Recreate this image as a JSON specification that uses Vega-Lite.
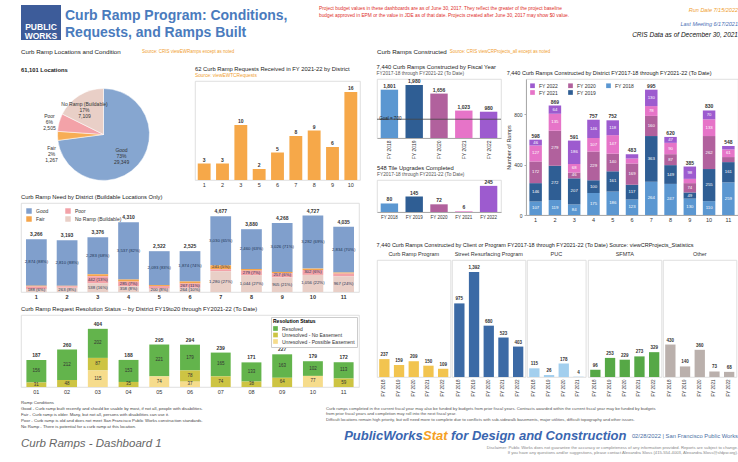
{
  "$schema": "https://vega.github.io/schema/vega-lite/v6.json",
  "padding": {"left": 20, "top": 5, "right": 1, "bottom": 0},
  "background": "white",
  "config": {
    "font": "Liberation Sans",
    "view": {"stroke": "#d8d8d8", "strokeWidth": 0.8},
    "axis": {"labelFontSize": 5.5, "labelColor": "#333", "grid": false, "domainColor": "#aaa", "tickColor": "#aaa", "tickSize": 2, "labelPadding": 2, "titleFontSize": 5.5, "titleFontWeight": "normal", "titleColor": "#333"},
    "title": {"fontSize": 5.8, "fontWeight": "normal", "anchor": "start", "color": "#222", "offset": 3, "subtitleFontSize": 4.8, "subtitlePadding": 1, "subtitleColor": "#555"},
    "legend": {"labelFontSize": 5.5, "titleFontSize": 5.5, "symbolSize": 30, "symbolType": "square", "rowPadding": 2, "columnPadding": 8, "padding": 2, "labelColor": "#333", "symbolStrokeWidth": 0},
    "header": {"labelFontSize": 6, "labelColor": "#333"}
  },
  "spacing": 4,
  "resolve": {"scale": {"color": "independent"}, "legend": {"color": "independent"}},
  "vconcat": [
    {
      "spacing": 4,
      "hconcat": [
        {
          "width": 40, "height": 35,
          "view": {"fill": "#3d5c9a", "stroke": null},
          "data": {"values": [{"t": "PUBLIC\nWORKS"}]},
          "mark": {"type": "text", "color": "white", "fontSize": 8.5, "fontWeight": "bold", "lineBreak": "\n", "lineHeight": 9, "baseline": "top", "align": "center"},
          "encoding": {
            "y": {"datum": 0.5, "type": "quantitative", "scale": {"domain": [0, 1]}, "axis": null},
            "text": {"field": "t"}
          }
        },
        {
          "width": 250, "height": 35,
          "view": {"stroke": null},
          "data": {"values": [{"t": "Curb Ramp Program:  Conditions,\nRequests, and Ramps Built"}]},
          "mark": {"type": "text", "color": "#4a7bbd", "fontSize": 14, "fontWeight": "bold", "lineBreak": "\n", "lineHeight": 17, "align": "left", "baseline": "top"},
          "encoding": {
            "x": {"datum": 0, "type": "quantitative", "scale": {"domain": [0, 1]}, "axis": null},
            "y": {"datum": 0.9, "type": "quantitative", "scale": {"domain": [0, 1]}, "axis": null},
            "text": {"field": "t"}
          }
        },
        {
          "width": 260, "height": 35,
          "view": {"stroke": null},
          "data": {"values": [{"t": "Project budget values in these dashboards are as of June 30, 2017.  They reflect the greater of the project baseline\nbudget approved in EPM or the value in JDE as of that date.  Projects created after June 30, 2017 may show $0 value."}]},
          "mark": {"type": "text", "color": "#e0302b", "fontSize": 4.8, "lineBreak": "\n", "lineHeight": 6.5, "align": "left", "baseline": "top"},
          "encoding": {
            "x": {"datum": 0, "type": "quantitative", "scale": {"domain": [0, 1]}, "axis": null},
            "y": {"datum": 0.96, "type": "quantitative", "scale": {"domain": [0, 1]}, "axis": null},
            "text": {"field": "t"}
          }
        },
        {
          "width": 155, "height": 35,
          "view": {"stroke": null},
          "layer": [
            {
              "data": {"values": [{"t": "Run Date 7/15/2022"}]},
              "mark": {"type": "text", "color": "#f0a030", "fontSize": 5.5, "fontStyle": "italic", "align": "right", "baseline": "middle"},
              "encoding": {
                "x": {"datum": 1, "type": "quantitative", "scale": {"domain": [0, 1]}, "axis": null},
                "y": {"datum": 0.87, "type": "quantitative", "scale": {"domain": [0, 1]}, "axis": null},
                "text": {"field": "t"}
              }
            },
            {
              "data": {"values": [{"t": "Last Meeting 6/17/2021"}]},
              "mark": {"type": "text", "color": "#4a6fb5", "fontSize": 5.5, "fontStyle": "italic", "align": "right", "baseline": "middle"},
              "encoding": {
                "x": {"datum": 1, "type": "quantitative", "scale": {"domain": [0, 1]}, "axis": null},
                "y": {"datum": 0.45, "type": "quantitative", "scale": {"domain": [0, 1]}, "axis": null},
                "text": {"field": "t"}
              }
            },
            {
              "data": {"values": [{"t": "CRIS Data as of December 30, 2021"}]},
              "mark": {"type": "text", "color": "#111", "fontSize": 6.5, "fontStyle": "italic", "align": "right", "baseline": "middle"},
              "encoding": {
                "x": {"datum": 1, "type": "quantitative", "scale": {"domain": [0, 1]}, "axis": null},
                "y": {"datum": 0.13, "type": "quantitative", "scale": {"domain": [0, 1]}, "axis": null},
                "text": {"field": "t"}
              }
            }
          ]
        }
      ]
    },
    {
      "spacing": 15,
      "resolve": {"scale": {"color": "independent"}, "legend": {"color": "independent"}},
      "hconcat": [
        {
          "spacing": 5,
          "resolve": {"scale": {"color": "independent"}, "legend": {"color": "independent"}},
          "vconcat": [
            {
              "width": 338, "height": 17,
              "view": {"stroke": null},
              "layer": [
                {
                  "data": {"values": [{"t": "Curb Ramp Locations and Condition"}]},
                  "mark": {"type": "text", "color": "#222", "fontSize": 6.2, "align": "left", "baseline": "middle"},
                  "encoding": {
                    "x": {"datum": 0, "type": "quantitative", "scale": {"domain": [0, 1]}, "axis": null},
                    "y": {"datum": 0.55, "type": "quantitative", "scale": {"domain": [0, 1]}, "axis": null},
                    "text": {"field": "t"}
                  }
                },
                {
                  "data": {"values": [{"t": "Source: CRIS viewEWRamps except as noted"}]},
                  "mark": {"type": "text", "color": "#f0a030", "fontSize": 4.5, "align": "left", "baseline": "middle"},
                  "encoding": {
                    "x": {"datum": 0.358, "type": "quantitative", "scale": {"domain": [0, 1]}, "axis": null},
                    "y": {"datum": 0.55, "type": "quantitative", "scale": {"domain": [0, 1]}, "axis": null},
                    "text": {"field": "t"}
                  }
                }
              ]
            },
            {
              "spacing": 8,
              "resolve": {"scale": {"color": "independent"}, "legend": {"color": "independent"}},
              "hconcat": [
                {
                  "title": {"text": "61,101 Locations", "fontWeight": "bold", "offset": 8},
                  "width": 165, "height": 107,
                  "data": {"values": [
                    {"condition": "Good", "count": 29349, "pct": 73},
                    {"condition": "Fair", "count": 1267, "pct": 2},
                    {"condition": "Poor", "count": 2505, "pct": 6},
                    {"condition": "No Ramp (Buildable)", "count": 7109, "pct": 17}
                  ]},
                  "transform": [
                    {"calculate": "indexof(['Good','Fair','Poor','No Ramp (Buildable)'], datum.condition)", "as": "ord"},
                    {"calculate": "datum.condition + '\\n' + datum.pct + '%\\n' + format(datum.count, ',')", "as": "label"}
                  ],
                  "encoding": {
                    "theta": {"field": "count", "type": "quantitative", "stack": true},
                    "order": {"field": "ord", "type": "quantitative"},
                    "color": {"field": "condition", "type": "nominal", "scale": {"domain": ["Good", "Fair", "Poor", "No Ramp (Buildable)"], "range": ["#86a6d0", "#f7ad55", "#f3a2a8", "#e9cfc7"]}, "legend": null}
                  },
                  "layer": [
                    {"mark": {"type": "arc", "outerRadius": 46, "stroke": "white", "strokeWidth": 0.5}},
                    {"mark": {"type": "text", "radius": 24, "fontSize": 5, "lineBreak": "\n", "lineHeight": 6}, "encoding": {"color": {"value": "#333"}, "text": {"condition": {"test": "datum.condition == 'Good'", "field": "label"}, "value": ""}}},
                    {"mark": {"type": "text", "radius": 36, "fontSize": 5, "lineBreak": "\n", "lineHeight": 6}, "encoding": {"color": {"value": "#333"}, "text": {"condition": {"test": "datum.condition == 'No Ramp (Buildable)'", "field": "label"}, "value": ""}}},
                    {"mark": {"type": "text", "radius": 56, "dy": -4, "fontSize": 5, "lineBreak": "\n", "lineHeight": 6}, "encoding": {"color": {"value": "#333"}, "text": {"condition": {"test": "datum.condition == 'Poor'", "field": "label"}, "value": ""}}},
                    {"mark": {"type": "text", "radius": 52, "dy": 12, "fontSize": 5, "lineBreak": "\n", "lineHeight": 6}, "encoding": {"color": {"value": "#333"}, "text": {"condition": {"test": "datum.condition == 'Fair'", "field": "label"}, "value": ""}}}
                  ]
                },
                {
                  "title": {"text": "62 Curb Ramp Requests Received in FY 2021-22 by District", "subtitle": "Source: viewEWTCRequests", "subtitleColor": "#f0a030"},
                  "width": 165, "height": 99,
                  "data": {"values": [
                    {"district": 1, "requests": 3}, {"district": 2, "requests": 3}, {"district": 3, "requests": 10},
                    {"district": 5, "requests": 2}, {"district": 6, "requests": 5}, {"district": 7, "requests": 8},
                    {"district": 8, "requests": 9}, {"district": 9, "requests": 6}, {"district": 10, "requests": 16}
                  ]},
                  "encoding": {
                    "x": {"field": "district", "type": "ordinal", "axis": {"title": null, "labelAngle": 0, "ticks": false, "domain": false}},
                    "y": {"field": "requests", "type": "quantitative", "scale": {"domain": [0, 18]}, "axis": null}
                  },
                  "layer": [
                    {"mark": {"type": "bar", "color": "#f6a849", "width": {"band": 0.78}}},
                    {"mark": {"type": "text", "dy": -4, "fontSize": 5, "fontWeight": "bold", "color": "#333"}, "encoding": {"text": {"field": "requests"}}}
                  ]
                }
              ]
            },
            {
              "title": "Curb Ramp Need by District (Buildable Locations Only)",
              "width": 338, "height": 89,
              "data": {"values": [
                {"district": 1, "condition": "Good", "count": 2874}, {"district": 1, "condition": "Fair", "count": 50}, {"district": 1, "condition": "Poor", "count": 154}, {"district": 1, "condition": "No Ramp (Buildable)", "count": 188},
                {"district": 2, "condition": "Good", "count": 2810}, {"district": 2, "condition": "Fair", "count": 30}, {"district": 2, "condition": "Poor", "count": 90}, {"district": 2, "condition": "No Ramp (Buildable)", "count": 263},
                {"district": 3, "condition": "Good", "count": 2283}, {"district": 3, "condition": "Fair", "count": 113}, {"district": 3, "condition": "Poor", "count": 442}, {"district": 3, "condition": "No Ramp (Buildable)", "count": 538},
                {"district": 4, "condition": "Good", "count": 3537}, {"district": 4, "condition": "Fair", "count": 130}, {"district": 4, "condition": "Poor", "count": 285}, {"district": 4, "condition": "No Ramp (Buildable)", "count": 358},
                {"district": 5, "condition": "Good", "count": 2093}, {"district": 5, "condition": "Fair", "count": 60}, {"district": 5, "condition": "Poor", "count": 169}, {"district": 5, "condition": "No Ramp (Buildable)", "count": 200},
                {"district": 6, "condition": "Good", "count": 1874}, {"district": 6, "condition": "Fair", "count": 120}, {"district": 6, "condition": "Poor", "count": 267}, {"district": 6, "condition": "No Ramp (Buildable)", "count": 264},
                {"district": 7, "condition": "Good", "count": 3030}, {"district": 7, "condition": "Fair", "count": 241}, {"district": 7, "condition": "Poor", "count": 126}, {"district": 7, "condition": "No Ramp (Buildable)", "count": 1280},
                {"district": 8, "condition": "Good", "count": 2460}, {"district": 8, "condition": "Fair", "count": 97}, {"district": 8, "condition": "Poor", "count": 279}, {"district": 8, "condition": "No Ramp (Buildable)", "count": 1044},
                {"district": 9, "condition": "Good", "count": 3026}, {"district": 9, "condition": "Fair", "count": 80}, {"district": 9, "condition": "Poor", "count": 257}, {"district": 9, "condition": "No Ramp (Buildable)", "count": 905},
                {"district": 10, "condition": "Good", "count": 3282}, {"district": 10, "condition": "Fair", "count": 87}, {"district": 10, "condition": "Poor", "count": 302}, {"district": 10, "condition": "No Ramp (Buildable)", "count": 1056},
                {"district": 11, "condition": "Good", "count": 2834}, {"district": 11, "condition": "Fair", "count": 61}, {"district": 11, "condition": "Poor", "count": 173}, {"district": 11, "condition": "No Ramp (Buildable)", "count": 967}
              ]},
              "transform": [
                {"calculate": "indexof(['No Ramp (Buildable)','Poor','Fair','Good'], datum.condition)", "as": "ord"},
                {"joinaggregate": [{"op": "sum", "field": "count", "as": "total"}], "groupby": ["district"]},
                {"stack": "count", "groupby": ["district"], "sort": [{"field": "ord", "order": "ascending"}], "as": ["y0", "y1"]},
                {"calculate": "(datum.y0 + datum.y1) / 2", "as": "ymid"},
                {"calculate": "format(datum.count, ',') + ' (' + format(datum.count / datum.total, '.0%') + ')'", "as": "seglabel"}
              ],
              "encoding": {
                "x": {"field": "district", "type": "ordinal", "axis": {"title": null, "labelAngle": 0, "ticks": false, "domain": false, "labelFontWeight": "bold"}}
              },
              "layer": [
                {
                  "mark": {"type": "bar", "width": {"band": 0.75}},
                  "encoding": {
                    "y": {"field": "y0", "type": "quantitative", "scale": {"domain": [0, 5300]}, "axis": null},
                    "y2": {"field": "y1"},
                    "color": {"field": "condition", "type": "nominal", "scale": {"domain": ["Good", "Fair", "Poor", "No Ramp (Buildable)"], "range": ["#809fcc", "#f5a54a", "#f3a2a8", "#e9cfc7"]}, "legend": {"title": null, "orient": "top-left", "columns": 2, "offset": 3, "columnPadding": 16, "labelFontSize": 5}}
                  }
                },
                {
                  "transform": [{"filter": "datum.count >= 180"}],
                  "mark": {"type": "text", "fontSize": 4.3, "color": "#1f3554"},
                  "encoding": {"y": {"field": "ymid", "type": "quantitative", "axis": null}, "text": {"field": "seglabel"}}
                },
                {
                  "transform": [{"filter": "datum.ord == 3"}],
                  "mark": {"type": "text", "dy": -5, "fontSize": 5, "fontWeight": "bold", "color": "#333"},
                  "encoding": {"y": {"field": "y1", "type": "quantitative", "axis": null}, "text": {"field": "total", "format": ","}}
                }
              ]
            },
            {
              "title": "Curb Ramp Request Resolution Status -- by District            FY19to20 through FY2021-22 (To Date)",
              "width": 338, "height": 72,
              "data": {"values": [
                {"district": "01", "status": "Resolved", "count": 156}, {"district": "01", "status": "Unresolved - No Easement", "count": 31},
                {"district": "02", "status": "Resolved", "count": 212}, {"district": "02", "status": "Unresolved - No Easement", "count": 48},
                {"district": "03", "status": "Resolved", "count": 202}, {"district": "03", "status": "Unresolved - No Easement", "count": 87}, {"district": "03", "status": "Unresolved - Possible Easement", "count": 115},
                {"district": "04", "status": "Resolved", "count": 153}, {"district": "04", "status": "Unresolved - No Easement", "count": 35},
                {"district": "05", "status": "Resolved", "count": 221}, {"district": "05", "status": "Unresolved - Possible Easement", "count": 74},
                {"district": "06", "status": "Resolved", "count": 179}, {"district": "06", "status": "Unresolved - No Easement", "count": 78}, {"district": "06", "status": "Unresolved - Possible Easement", "count": 37},
                {"district": "07", "status": "Resolved", "count": 165}, {"district": "07", "status": "Unresolved - No Easement", "count": 74},
                {"district": "08", "status": "Resolved", "count": 133}, {"district": "08", "status": "Unresolved - No Easement", "count": 38},
                {"district": "09", "status": "Resolved", "count": 163}, {"district": "09", "status": "Unresolved - No Easement", "count": 64},
                {"district": "10", "status": "Resolved", "count": 102}, {"district": "10", "status": "Unresolved - Possible Easement", "count": 77},
                {"district": "11", "status": "Resolved", "count": 113}, {"district": "11", "status": "Unresolved - No Easement", "count": 59}
              ]},
              "transform": [
                {"calculate": "indexof(['Unresolved - Possible Easement','Unresolved - No Easement','Resolved'], datum.status)", "as": "ord"},
                {"joinaggregate": [{"op": "sum", "field": "count", "as": "total"}], "groupby": ["district"]},
                {"stack": "count", "groupby": ["district"], "sort": [{"field": "ord", "order": "ascending"}], "as": ["y0", "y1"]},
                {"calculate": "(datum.y0 + datum.y1) / 2", "as": "ymid"}
              ],
              "encoding": {
                "x": {"field": "district", "type": "ordinal", "axis": {"title": null, "labelAngle": 0, "ticks": false, "domain": false}}
              },
              "layer": [
                {
                  "mark": {"type": "bar", "width": {"band": 0.72}},
                  "encoding": {
                    "y": {"field": "y0", "type": "quantitative", "scale": {"domain": [0, 480]}, "axis": null},
                    "y2": {"field": "y1"},
                    "color": {"field": "status", "type": "nominal", "scale": {"domain": ["Resolved", "Unresolved - No Easement", "Unresolved - Possible Easement"], "range": ["#63b44c", "#cdc443", "#f6dc8c"]}, "legend": {"title": "Resolution Status", "orient": "top-right", "offset": 2, "strokeColor": "#ccc", "padding": 2, "fillColor": "white", "labelFontSize": 5, "titleFontSize": 5, "symbolSize": 22, "rowPadding": 0.5, "titlePadding": 2}}
                  }
                },
                {
                  "mark": {"type": "text", "fontSize": 4.5, "color": "#333"},
                  "encoding": {"y": {"field": "ymid", "type": "quantitative", "axis": null}, "text": {"field": "count"}}
                },
                {
                  "transform": [{"filter": "datum.ord == 2"}],
                  "mark": {"type": "text", "dy": -5, "fontSize": 5, "fontWeight": "bold", "color": "#333"},
                  "encoding": {"y": {"field": "y1", "type": "quantitative", "axis": null}, "text": {"field": "total"}}
                }
              ]
            }
          ]
        },
        {
          "spacing": 20,
          "resolve": {"scale": {"color": "independent"}, "legend": {"color": "independent"}},
          "vconcat": [
            {
              "spacing": 5,
              "resolve": {"scale": {"color": "independent"}, "legend": {"color": "independent"}},
              "vconcat": [
                {
                  "width": 364, "height": 14,
                  "view": {"stroke": null},
                  "layer": [
                    {
                      "data": {"values": [{"t": "Curb Ramps Constructed"}]},
                      "mark": {"type": "text", "color": "#222", "fontSize": 6.2, "align": "left", "baseline": "middle"},
                      "encoding": {
                        "x": {"datum": 0, "type": "quantitative", "scale": {"domain": [0, 1]}, "axis": null},
                        "y": {"datum": 0.4, "type": "quantitative", "scale": {"domain": [0, 1]}, "axis": null},
                        "text": {"field": "t"}
                      }
                    },
                    {
                      "data": {"values": [{"t": "Source: CRIS viewCRProjects_all except as noted"}]},
                      "mark": {"type": "text", "color": "#f0a030", "fontSize": 4.5, "align": "left", "baseline": "middle"},
                      "encoding": {
                        "x": {"datum": 0.2, "type": "quantitative", "scale": {"domain": [0, 1]}, "axis": null},
                        "y": {"datum": 0.4, "type": "quantitative", "scale": {"domain": [0, 1]}, "axis": null},
                        "text": {"field": "t"}
                      }
                    }
                  ]
                },
                {
                  "spacing": 4,
                  "resolve": {"scale": {"color": "independent"}, "legend": {"color": "independent"}},
                  "hconcat": [
                    {
                      "spacing": 4,
                      "resolve": {"scale": {"color": "independent"}, "legend": {"color": "independent"}},
                      "vconcat": [
                        {
                          "title": {"text": "7,440 Curb Ramps Constructed by Fiscal Year", "subtitle": "FY2017-18 through FY2021-22 (To Date)"},
                          "width": 124, "height": 59,
                          "data": {"values": [
                            {"fy": "FY 2018", "ramps": 1801}, {"fy": "FY 2019", "ramps": 1980}, {"fy": "FY 2020", "ramps": 1656},
                            {"fy": "FY 2021", "ramps": 1023}, {"fy": "FY 2022", "ramps": 980}
                          ]},
                          "encoding": {
                            "x": {"field": "fy", "type": "nominal", "axis": {"title": null, "labelAngle": -90, "labelFontSize": 5, "ticks": false}}
                          },
                          "layer": [
                            {
                              "mark": {"type": "bar", "width": {"band": 0.78}},
                              "encoding": {
                                "y": {"field": "ramps", "type": "quantitative", "scale": {"domain": [0, 2160]}, "axis": null},
                                "color": {"field": "fy", "type": "nominal", "scale": {"domain": ["FY 2018", "FY 2019", "FY 2020", "FY 2021", "FY 2022"], "range": ["#5b97d1", "#2f5e94", "#b1619d", "#e674c8", "#9d5bcf"]}, "legend": null}
                              }
                            },
                            {
                              "mark": {"type": "text", "dy": -4, "fontSize": 5, "fontWeight": "bold", "color": "#333"},
                              "encoding": {"y": {"field": "ramps", "type": "quantitative", "axis": null}, "text": {"field": "ramps", "format": ","}}
                            },
                            {
                              "data": {"values": [{"goal": 700, "fy": "FY 2018", "label": "Goal = 700"}]},
                              "mark": {"type": "rule", "color": "#444", "strokeWidth": 0.8},
                              "encoding": {"x": null, "y": {"field": "goal", "type": "quantitative", "axis": null}}
                            },
                            {
                              "data": {"values": [{"goal": 700, "fy": "FY 2018", "label": "Goal = 700"}]},
                              "mark": {"type": "text", "align": "left", "fontSize": 4.5, "color": "#222", "dx": 1},
                              "encoding": {
                                "x": {"field": "fy", "type": "nominal", "bandPosition": 0},
                                "y": {"field": "goal", "type": "quantitative", "axis": null},
                                "text": {"field": "label"}
                              }
                            }
                          ]
                        },
                        {
                          "title": {"text": "548 Tile Upgrades Completed", "subtitle": "FY2017-18 through FY2021-22 (To Date)"},
                          "width": 124, "height": 32,
                          "data": {"values": [
                            {"fy": "FY 2018", "tiles": 80}, {"fy": "FY 2019", "tiles": 145}, {"fy": "FY 2020", "tiles": 72},
                            {"fy": "FY 2021", "tiles": 6}, {"fy": "FY 2022", "tiles": 245}
                          ]},
                          "encoding": {
                            "x": {"field": "fy", "type": "nominal", "axis": {"title": null, "labelAngle": 0, "labelFontSize": 4.5, "ticks": false}},
                            "y": {"field": "tiles", "type": "quantitative", "scale": {"domain": [0, 300]}, "axis": null}
                          },
                          "layer": [
                            {
                              "mark": {"type": "bar", "width": {"band": 0.78}},
                              "encoding": {"color": {"field": "fy", "type": "nominal", "scale": {"domain": ["FY 2018", "FY 2019", "FY 2020", "FY 2021", "FY 2022"], "range": ["#5b97d1", "#2f5e94", "#b1619d", "#e674c8", "#9d5bcf"]}, "legend": null}}
                            },
                            {
                              "mark": {"type": "text", "dy": -4, "fontSize": 5, "fontWeight": "bold", "color": "#333"},
                              "encoding": {"text": {"field": "tiles"}}
                            }
                          ]
                        }
                      ]
                    },
                    {
                      "title": {"text": "7,440 Curb Ramps Constructed by District FY2017-18 through FY2021-22 (To Date)", "fontSize": 5.5},
                      "width": 212, "height": 136,
                      "data": {"values": [
                        {"district": 1, "fy": "FY 2018", "ramps": 107}, {"district": 1, "fy": "FY 2019", "ramps": 146}, {"district": 1, "fy": "FY 2020", "ramps": 172}, {"district": 1, "fy": "FY 2021", "ramps": 127}, {"district": 1, "fy": "FY 2022", "ramps": 46},
                        {"district": 2, "fy": "FY 2018", "ramps": 119}, {"district": 2, "fy": "FY 2019", "ramps": 272}, {"district": 2, "fy": "FY 2020", "ramps": 279}, {"district": 2, "fy": "FY 2021", "ramps": 135}, {"district": 2, "fy": "FY 2022", "ramps": 64},
                        {"district": 3, "fy": "FY 2018", "ramps": 84}, {"district": 3, "fy": "FY 2019", "ramps": 207}, {"district": 3, "fy": "FY 2020", "ramps": 46}, {"district": 3, "fy": "FY 2021", "ramps": 68}, {"district": 3, "fy": "FY 2022", "ramps": 186},
                        {"district": 4, "fy": "FY 2018", "ramps": 175}, {"district": 4, "fy": "FY 2019", "ramps": 100}, {"district": 4, "fy": "FY 2020", "ramps": 229}, {"district": 4, "fy": "FY 2021", "ramps": 107}, {"district": 4, "fy": "FY 2022", "ramps": 146},
                        {"district": 5, "fy": "FY 2018", "ramps": 186}, {"district": 5, "fy": "FY 2019", "ramps": 161}, {"district": 5, "fy": "FY 2020", "ramps": 140}, {"district": 5, "fy": "FY 2021", "ramps": 147}, {"district": 5, "fy": "FY 2022", "ramps": 118},
                        {"district": 6, "fy": "FY 2018", "ramps": 123}, {"district": 6, "fy": "FY 2019", "ramps": 117}, {"district": 6, "fy": "FY 2020", "ramps": 169}, {"district": 6, "fy": "FY 2021", "ramps": 40}, {"district": 6, "fy": "FY 2022", "ramps": 34},
                        {"district": 7, "fy": "FY 2018", "ramps": 264}, {"district": 7, "fy": "FY 2019", "ramps": 363}, {"district": 7, "fy": "FY 2020", "ramps": 160}, {"district": 7, "fy": "FY 2021", "ramps": 78}, {"district": 7, "fy": "FY 2022", "ramps": 130},
                        {"district": 8, "fy": "FY 2018", "ramps": 247}, {"district": 8, "fy": "FY 2019", "ramps": 149}, {"district": 8, "fy": "FY 2020", "ramps": 87}, {"district": 8, "fy": "FY 2021", "ramps": 90}, {"district": 8, "fy": "FY 2022", "ramps": 47},
                        {"district": 9, "fy": "FY 2018", "ramps": 130}, {"district": 9, "fy": "FY 2019", "ramps": 49}, {"district": 9, "fy": "FY 2020", "ramps": 74}, {"district": 9, "fy": "FY 2021", "ramps": 34}, {"district": 9, "fy": "FY 2022", "ramps": 98},
                        {"district": 10, "fy": "FY 2018", "ramps": 110}, {"district": 10, "fy": "FY 2019", "ramps": 255}, {"district": 10, "fy": "FY 2020", "ramps": 262}, {"district": 10, "fy": "FY 2021", "ramps": 133}, {"district": 10, "fy": "FY 2022", "ramps": 70},
                        {"district": 11, "fy": "FY 2018", "ramps": 259}, {"district": 11, "fy": "FY 2019", "ramps": 161}, {"district": 11, "fy": "FY 2020", "ramps": 40}, {"district": 11, "fy": "FY 2021", "ramps": 61}, {"district": 11, "fy": "FY 2022", "ramps": 27}
                      ]},
                      "transform": [
                        {"stack": "ramps", "groupby": ["district"], "sort": [{"field": "fy", "order": "ascending"}], "as": ["y0", "y1"]},
                        {"calculate": "(datum.y0 + datum.y1) / 2", "as": "ymid"},
                        {"joinaggregate": [{"op": "sum", "field": "ramps", "as": "total"}], "groupby": ["district"]}
                      ],
                      "encoding": {
                        "x": {"field": "district", "type": "ordinal", "axis": {"title": null, "labelAngle": 0, "ticks": false}}
                      },
                      "layer": [
                        {
                          "mark": {"type": "bar", "width": {"band": 0.72}},
                          "encoding": {
                            "y": {"field": "y0", "type": "quantitative", "title": "Number of Ramps", "scale": {"domain": [0, 1080], "nice": false}, "axis": {"values": [0, 200, 400, 600, 800, 1000], "titlePadding": 2, "labelFontSize": 5}},
                            "y2": {"field": "y1"},
                            "color": {"field": "fy", "type": "nominal", "scale": {"domain": ["FY 2022", "FY 2021", "FY 2020", "FY 2019", "FY 2018"], "range": ["#9d5bcf", "#e674c8", "#b1619d", "#2f5e94", "#5b97d1"]}, "legend": {"title": null, "orient": "top-left", "columns": 3, "offset": 2, "columnPadding": 10, "rowPadding": 1, "symbolSize": 22, "labelFontSize": 5}}
                          }
                        },
                        {
                          "transform": [{"filter": "datum.ramps >= 45"}],
                          "mark": {"type": "text", "fontSize": 4.3, "color": "white"},
                          "encoding": {"y": {"field": "ymid", "type": "quantitative", "title": "Number of Ramps"}, "text": {"field": "ramps"}}
                        },
                        {
                          "transform": [{"filter": "datum.fy == 'FY 2022'"}],
                          "mark": {"type": "text", "dy": -4, "fontSize": 5, "fontWeight": "bold", "color": "#333"},
                          "encoding": {"y": {"field": "y1", "type": "quantitative", "title": "Number of Ramps"}, "text": {"field": "total"}}
                        }
                      ]
                    }
                  ]
                }
              ]
            },
            {
              "title": {"text": "7,440 Curb Ramps Constructed by Client or Program  FY2017-18 through FY2021-22 (To Date)    Source: viewCRProjects_Statistics", "fontSize": 5.5},
              "data": {"values": [
                {"program": "Curb Ramp Program", "fy": "FY 2018", "ramps": 237}, {"program": "Curb Ramp Program", "fy": "FY 2019", "ramps": 159}, {"program": "Curb Ramp Program", "fy": "FY 2020", "ramps": 209}, {"program": "Curb Ramp Program", "fy": "FY 2021", "ramps": 150}, {"program": "Curb Ramp Program", "fy": "FY 2022", "ramps": 109},
                {"program": "Street Resurfacing Program", "fy": "FY 2018", "ramps": 975}, {"program": "Street Resurfacing Program", "fy": "FY 2019", "ramps": 1392}, {"program": "Street Resurfacing Program", "fy": "FY 2020", "ramps": 680}, {"program": "Street Resurfacing Program", "fy": "FY 2021", "ramps": 523}, {"program": "Street Resurfacing Program", "fy": "FY 2022", "ramps": 403},
                {"program": "PUC", "fy": "FY 2018", "ramps": 115}, {"program": "PUC", "fy": "FY 2019", "ramps": 26}, {"program": "PUC", "fy": "FY 2020", "ramps": 178}, {"program": "PUC", "fy": "FY 2021", "ramps": 4},
                {"program": "SFMTA", "fy": "FY 2018", "ramps": 96}, {"program": "SFMTA", "fy": "FY 2019", "ramps": 253}, {"program": "SFMTA", "fy": "FY 2020", "ramps": 229}, {"program": "SFMTA", "fy": "FY 2021", "ramps": 273}, {"program": "SFMTA", "fy": "FY 2022", "ramps": 329},
                {"program": "Other", "fy": "FY 2018", "ramps": 430}, {"program": "Other", "fy": "FY 2019", "ramps": 140}, {"program": "Other", "fy": "FY 2020", "ramps": 360}, {"program": "Other", "fy": "FY 2021", "ramps": 73}, {"program": "Other", "fy": "FY 2022", "ramps": 68}
              ]},
              "facet": {"column": {"field": "program", "type": "nominal", "sort": ["Curb Ramp Program", "Street Resurfacing Program", "PUC", "SFMTA", "Other"], "header": {"title": null, "labelFontSize": 5.5, "labelPadding": 2}}},
              "spacing": 0,
              "resolve": {"scale": {"x": "independent"}},
              "spec": {
                "width": {"step": 14.7},
                "height": 117,
                "encoding": {
                  "x": {"field": "fy", "type": "nominal", "axis": {"title": null, "labelAngle": -90, "labelFontSize": 4.5, "ticks": false, "domain": false}},
                  "y": {"field": "ramps", "type": "quantitative", "scale": {"domain": [0, 1550]}, "axis": null}
                },
                "layer": [
                  {
                    "mark": {"type": "bar", "width": {"band": 0.78}},
                    "encoding": {"color": {"field": "program", "type": "nominal", "scale": {"domain": ["Curb Ramp Program", "Street Resurfacing Program", "PUC", "SFMTA", "Other"], "range": ["#f2c44f", "#3c6aa5", "#a3cfee", "#56a846", "#bab0ac"]}, "legend": null}}
                  },
                  {
                    "mark": {"type": "text", "dy": -4, "fontSize": 4.5, "fontWeight": "bold", "color": "#333"},
                    "encoding": {"text": {"field": "ramps", "format": ","}}
                  }
                ]
              }
            }
          ]
        }
      ]
    },
    {
      "spacing": 8,
      "hconcat": [
        {
          "width": 297, "height": 54,
          "view": {"stroke": null},
          "layer": [
            {
              "data": {"values": [{"t": "Ramp Conditions\nGood - Curb ramp built recently and should be usable by most, if not all, people with disabilities.\nFair - Curb ramp is older.  Many, but not all, persons with disabilities can use it.\nPoor - Curb ramp is old and does not meet San Francisco Public Works construction standards.\nNo Ramp - There is potential for a curb ramp at this location."}]},
              "mark": {"type": "text", "color": "#444", "fontSize": 4.3, "lineBreak": "\n", "lineHeight": 6, "align": "left", "baseline": "top"},
              "encoding": {
                "x": {"datum": 0, "type": "quantitative", "scale": {"domain": [0, 1]}, "axis": null},
                "y": {"datum": 1, "type": "quantitative", "scale": {"domain": [0, 1]}, "axis": null},
                "text": {"field": "t"}
              }
            },
            {
              "data": {"values": [{"t": "Curb Ramps -  Dashboard 1"}]},
              "mark": {"type": "text", "color": "#666", "fontSize": 11.5, "fontStyle": "italic", "align": "left", "baseline": "middle"},
              "encoding": {
                "x": {"datum": 0, "type": "quantitative", "scale": {"domain": [0, 1]}, "axis": null},
                "y": {"datum": 0.2, "type": "quantitative", "scale": {"domain": [0, 1]}, "axis": null},
                "text": {"field": "t"}
              }
            }
          ]
        },
        {
          "width": 412, "height": 54,
          "view": {"stroke": null},
          "layer": [
            {
              "data": {"values": [{"t": "Curb ramps completed in the current fiscal year may also be funded by budgets from prior fiscal years.  Contracts awarded within the current fiscal year may be funded by budgets\nfrom prior fiscal years and completion may roll into the next fiscal year.\n\nDifficult locations remain high priority, but will need more to complete due to conflicts with sub-sidewalk basements, major utilities, difficult topography and other issues."}]},
              "mark": {"type": "text", "color": "#555", "fontSize": 4.2, "lineBreak": "\n", "lineHeight": 5.5, "align": "left", "baseline": "top"},
              "encoding": {
                "x": {"datum": 0, "type": "quantitative", "scale": {"domain": [0, 1]}, "axis": null},
                "y": {"datum": 0.89, "type": "quantitative", "scale": {"domain": [0, 1]}, "axis": null},
                "text": {"field": "t"}
              }
            },
            {
              "data": {"values": [{"t": "PublicWorks"}]},
              "mark": {"type": "text", "color": "#3a66b0", "fontSize": 13, "fontWeight": "bold", "fontStyle": "italic", "align": "left", "baseline": "middle"},
              "encoding": {
                "x": {"datum": 0.044, "type": "quantitative", "scale": {"domain": [0, 1]}, "axis": null},
                "y": {"datum": 0.36, "type": "quantitative", "scale": {"domain": [0, 1]}, "axis": null},
                "text": {"field": "t"}
              }
            },
            {
              "data": {"values": [{"t": "Stat"}]},
              "mark": {"type": "text", "color": "#f4a024", "fontSize": 13, "fontWeight": "bold", "fontStyle": "italic", "align": "left", "baseline": "middle"},
              "encoding": {
                "x": {"datum": 0.2354, "type": "quantitative", "scale": {"domain": [0, 1]}, "axis": null},
                "y": {"datum": 0.36, "type": "quantitative", "scale": {"domain": [0, 1]}, "axis": null},
                "text": {"field": "t"}
              }
            },
            {
              "data": {"values": [{"t": "for Design and Construction"}]},
              "mark": {"type": "text", "color": "#3a66b0", "fontSize": 13, "fontWeight": "bold", "fontStyle": "italic", "align": "left", "baseline": "middle"},
              "encoding": {
                "x": {"datum": 0.3034, "type": "quantitative", "scale": {"domain": [0, 1]}, "axis": null},
                "y": {"datum": 0.36, "type": "quantitative", "scale": {"domain": [0, 1]}, "axis": null},
                "text": {"field": "t"}
              }
            },
            {
              "data": {"values": [{"t": "02/28/2022  |  San Francisco Public Works"}]},
              "mark": {"type": "text", "color": "#4a6fa5", "fontSize": 5.8, "align": "right", "baseline": "middle"},
              "encoding": {
                "x": {"datum": 1, "type": "quantitative", "scale": {"domain": [0, 1]}, "axis": null},
                "y": {"datum": 0.36, "type": "quantitative", "scale": {"domain": [0, 1]}, "axis": null},
                "text": {"field": "t"}
              }
            },
            {
              "data": {"values": [{"t": "Disclaimer:  Public Works does not guarantee the accuracy or completeness of any information provided.  Reports are subject to change.\nIf you have any questions and/or suggestions, please contact Alexandra Sloss (415-554-4003, Alexandra.Sloss@sfdpw.org)."}]},
              "mark": {"type": "text", "color": "#888", "fontSize": 4.2, "lineBreak": "\n", "lineHeight": 5.5, "align": "right", "baseline": "top"},
              "encoding": {
                "x": {"datum": 1, "type": "quantitative", "scale": {"domain": [0, 1]}, "axis": null},
                "y": {"datum": 0.17, "type": "quantitative", "scale": {"domain": [0, 1]}, "axis": null},
                "text": {"field": "t"}
              }
            }
          ]
        }
      ]
    }
  ]
}
